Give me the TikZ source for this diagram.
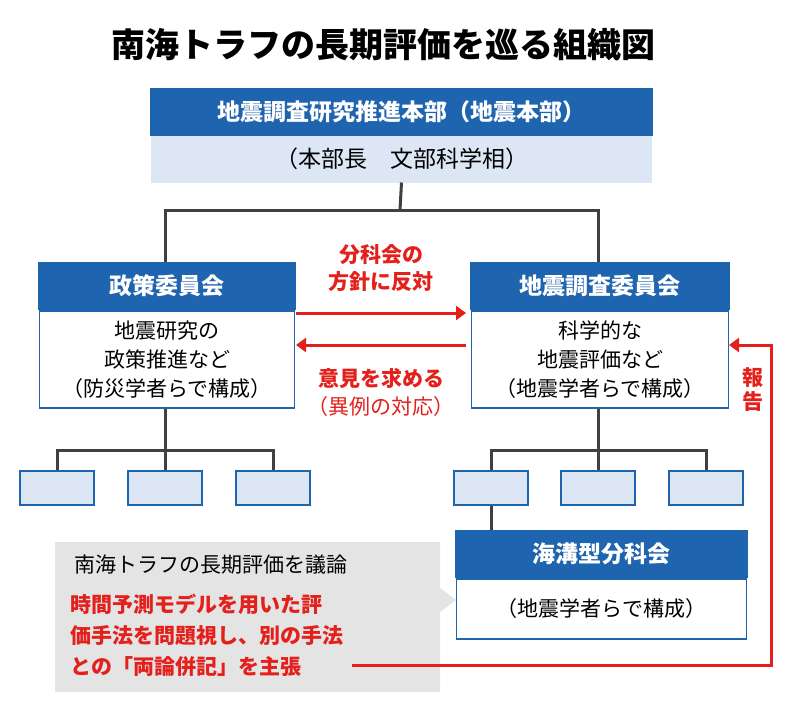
\documentclass[tikz,border=0pt]{standalone}
\usepackage{fontspec}
\setmainfont{Noto Sans CJK JP}
\usetikzlibrary{positioning}
\usetikzlibrary{arrows.meta}
\usetikzlibrary{shapes}
\definecolor{hdblue}{HTML}{1F64AE}
\definecolor{ltblue}{HTML}{DCE6F5}
\definecolor{boxgray}{HTML}{E4E4E4}
\definecolor{warnred}{HTML}{E3201B}
\begin{document}
\begin{tikzpicture}[x=1pt, y=-1pt,
        line width = 3pt,
        header/.style = {draw = hdblue, fill = hdblue, text = white, font = \fontsize{23}{26}\selectfont\bfseries,
            minimum height = 45pt, inner sep = 0pt},
        body/.style = {draw = hdblue, line width = 1.5pt, fill = white, font = \fontsize{21}{29}\selectfont,
            align = center, inner sep = 0pt},
        leaf/.style = {draw = hdblue, line width = 1.2pt, fill = ltblue, minimum width = 74pt,
            minimum height = 34pt, inner sep = 0pt},
        tree/.style = {draw = black!75, line width = 3pt},
        redarrow/.style = {draw = warnred, line width = 3pt, -{Triangle[length=10pt, width=14pt]}},
        redtext/.style = {text = warnred, font = \fontsize{21}{27}\selectfont\bfseries, align = center},
    ]
    \useasboundingbox (0,0) rectangle (800,704);

    % title
    \node (title) at (383,45) {\fontsize{34}{38}\selectfont\bfseries 南海トラフの長期評価を巡る組織図};

    % headquarters
    \node (hq) [header, minimum width = 500pt, anchor = north west] at (150,88) {地震調査研究推進本部（地震本部）};
    \node (hqsub) [body, fill = ltblue, draw = ltblue, minimum width = 500pt, minimum height = 45pt,
        anchor = north, font = \fontsize{23}{26}\selectfont] at (hq.south) {（本部長　文部科学相）};

    \coordinate (split) at (400,210);
    \coordinate (splitL) at (165,210);
    \coordinate (splitR) at (598,210);
    \draw[tree] (hqsub.south) -- (split);
    \draw[tree] (165,262) |- (splitL) -- (splitR) -| (598,262);

    % policy committee
    \node (pol) [header, minimum width = 255pt, anchor = north west] at (38,262) {政策委員会};
    \node (polbody) [body, minimum width = 255pt, minimum height = 97pt, anchor = north] at (pol.south)
        {地震研究の\\政策推進など\\（防災学者らで構成）};

    % research committee
    \node (res) [header, minimum width = 257pt, anchor = north west] at (470,262) {地震調査委員会};
    \node (resbody) [body, minimum width = 257pt, minimum height = 97pt, anchor = north] at (res.south)
        {科学的な\\地震評価など\\（地震学者らで構成）};

    % arrows between committees
    \coordinate (oppS) at (296,313);
    \coordinate (oppE) at (466,313);
    \coordinate (askS) at (466,345);
    \coordinate (askE) at (296,345);
    \draw[redarrow] (oppS) -- (oppE);
    \draw[redarrow] (askS) -- (askE);
    \node (opp) [redtext] at (381,268) {分科会の\\方針に反対};
    \node (ask) [redtext] at (381,378) {意見を求める};
    \node (ask2) [text = warnred, font = \fontsize{21}{27}\selectfont] at (381,407) {（異例の対応）};

    % left subtree
    \coordinate (lsplit) at (165,450);
    \node (l1) [leaf] at (57,488) {};
    \node (l2) [leaf] at (165,488) {};
    \node (l3) [leaf] at (273,488) {};
    \draw[tree] (polbody.south -| lsplit) -- (lsplit);
    \draw[tree] (l1.north) |- (lsplit) -| (l3.north);
    \draw[tree] (lsplit) -- (l2.north);

    % right subtree
    \coordinate (rsplit) at (598,450);
    \node (r1) [leaf] at (491,488) {};
    \node (r2) [leaf] at (598,488) {};
    \node (r3) [leaf] at (706,488) {};
    \draw[tree] (resbody.south -| rsplit) -- (rsplit);
    \draw[tree] (r1.north) |- (rsplit) -| (r3.north);
    \draw[tree] (rsplit) -- (r2.north);

    % callout
    \fill[boxgray] (55,542) -- (440,542) -- (440,588) -- (456,600) -- (440,612) -- (440,692) -- (55,692) -- cycle;
    \node (topic) [anchor = west, font = \fontsize{21}{24}\selectfont] at (70,565) {南海トラフの長期評価を議論};
    \node (claim) [redtext, anchor = north west, align = left, font = \fontsize{21}{31}\selectfont\bfseries]
        at (66,589) {時間予測モデルを用いた評\\価手法を問題視し、別の手法\\との「両論併記」を主張};

    % trench subcommittee
    \node (sub) [header, minimum width = 290pt, anchor = north west] at (455,530) {海溝型分科会};
    \node (subbody) [body, minimum width = 290pt, minimum height = 60pt, anchor = north] at (sub.south)
        {（地震学者らで構成）};
    \draw[tree] (r1.south) -- (r1.south |- sub.north);

    % report line
    \coordinate (repA) at (352,665);
    \coordinate (repB) at (771,665);
    \coordinate (repC) at (771,345);
    \coordinate (repD) at (729,345);
    \draw[redarrow] (repA) -- (repB) -- (repC) -- (repD);
    \node (report) [redtext, align = center, font = \fontsize{21}{24}\selectfont\bfseries] at (753,390) {報\\告};
\end{tikzpicture}
\end{document}
